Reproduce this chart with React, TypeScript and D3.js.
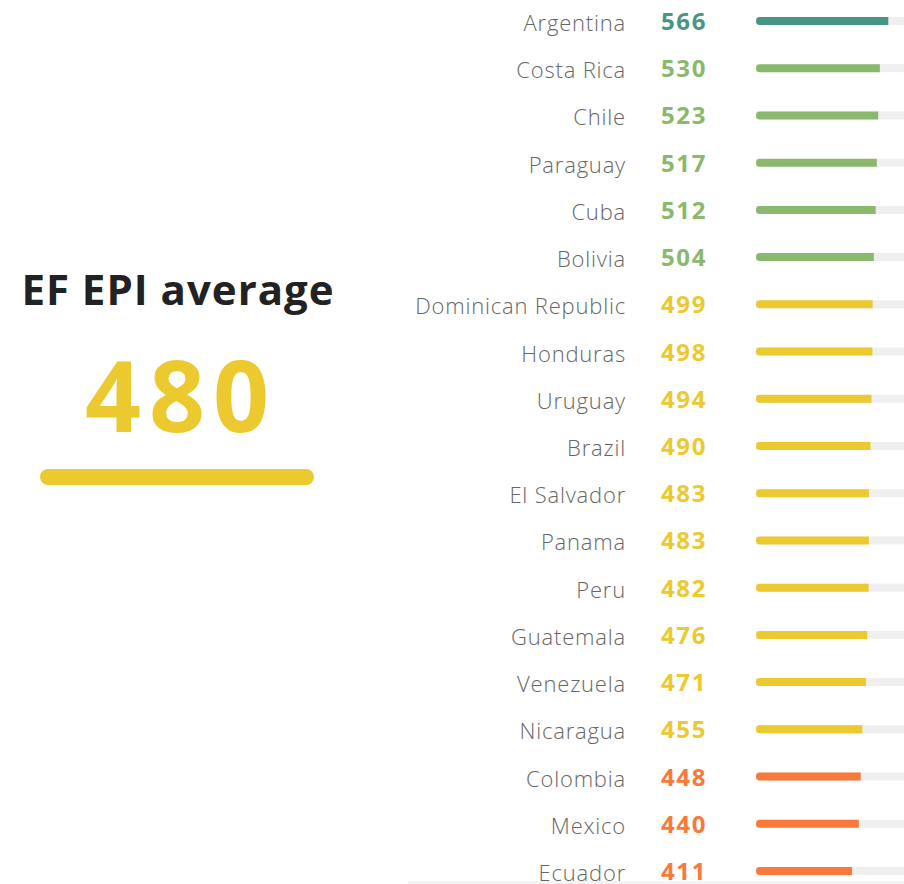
import * as d3 from 'd3';

const countries = [
  'Argentina', 'Costa Rica', 'Chile', 'Paraguay', 'Cuba', 'Bolivia',
  'Dominican Republic', 'Honduras', 'Uruguay', 'Brazil', 'El Salvador',
  'Panama', 'Peru', 'Guatemala', 'Venezuela', 'Nicaragua', 'Colombia',
  'Mexico', 'Ecuador',
];
const scores = [566, 530, 523, 517, 512, 504, 499, 498, 494, 490, 483, 483, 482, 476, 471, 455, 448, 440, 411];
const average = 480;

// proficiency bands (lower bound) and their colours
const bandLimits = [550, 500, 450, 0];
const bandColors = ['#469585', '#8ab86c', '#ebc92f', '#f8793a'];

const W = 904;
const H = 884;
const font = "'Open Sans', sans-serif";

function colorFor(v: number) {
  const i = bandLimits.findIndex((b) => v >= b);
  return bandColors[i];
}

export default function App() {
  const y = d3.scalePoint<string>()
    .domain(countries)
    .range([21, 871]);

  const x = d3.scaleLinear()
    .domain([0, 800])
    .range([756, 943]);

  const barH = 8;

  return (
    <svg width={W} height={H} style={{ position: 'absolute', left: 0, top: 0, background: '#fff' }}>
      {/* left: average block */}
      <text x={178} y={305} textAnchor="middle" fontFamily={font}
        fontWeight={700} fontSize={42} letterSpacing={1} fill="#222">EF EPI average</text>
      <text x={181} y={432} textAnchor="middle" fontFamily={font}
        fontWeight={700} fontSize={98} letterSpacing={8} fill={colorFor(average)}>{average}</text>
      <rect x={40} y={469} width={274} height={16} rx={8} fill={colorFor(average)} />

      {/* faint bottom edge */}
      <rect x={408} y={881} width={W - 408} height={3} fill="#f3f3f3" />

      {countries.map((c, i) => {
        const cy = y(c) as number;
        const v = scores[i];
        const col = colorFor(v);
        return (
          <g key={c}>
            <text x={626} y={cy + 10} textAnchor="end" fontFamily={font} fontWeight={300}
              fontSize={22} letterSpacing={0.8} fill="#666">{c}</text>
            <text x={661} y={cy + 9} fontFamily={font} fontWeight={700}
              fontSize={24} letterSpacing={1.6} fill={col}>{v}</text>
            <rect x={x(0)} y={cy - barH / 2} width={W - x(0) + 10} height={barH} fill="#efefef" />
            <path
              d={`M${x(v)},${cy - barH / 2}H${x(0) + barH / 2}A${barH / 2},${barH / 2} 0 0 0 ${x(0) + barH / 2},${cy + barH / 2}H${x(v)}Z`}
              fill={col}
            />
          </g>
        );
      })}
    </svg>
  );
}
